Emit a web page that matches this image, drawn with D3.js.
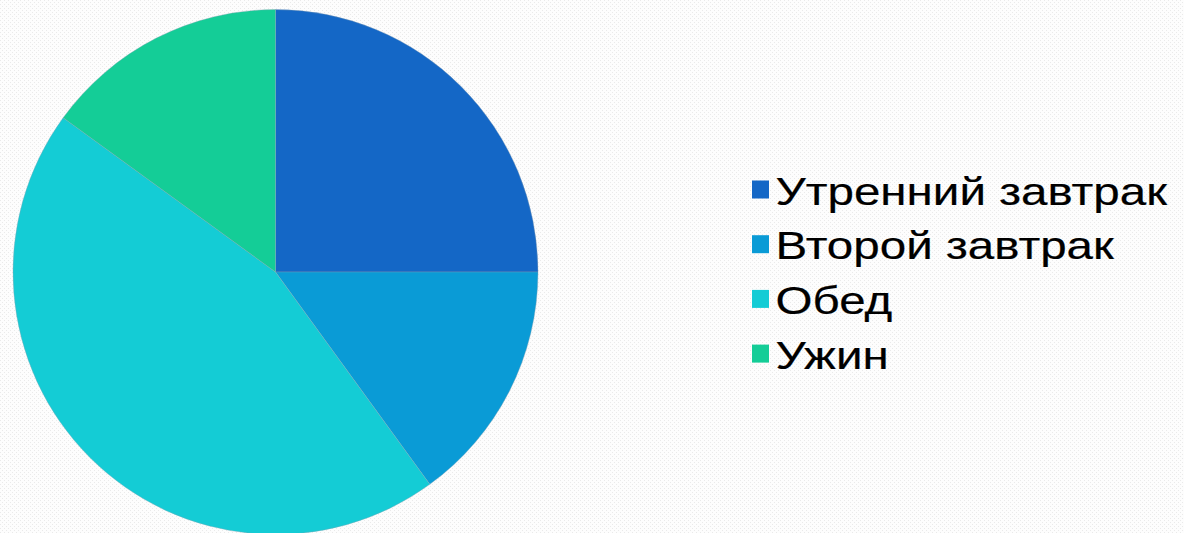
<!DOCTYPE html>
<html>
<head>
<meta charset="utf-8">
<script src="https://cdn.jsdelivr.net/npm/d3@7"></script>
<style>
  body { margin: 0; background: #fff; }
  svg { display: block; }
</style>
</head>
<body>
<div id="chart"></div>
<script>
var svgWidth = 1184;
var svgHeight = 533;

// data
var categories = ["Утренний завтрак", "Второй завтрак", "Обед", "Ужин"];
var values = [25, 15, 45, 15];
var colors = ["#1467c6", "#0a9bd6", "#14ccd5", "#14cd97"];

var svg = d3.select("#chart")
  .append("svg")
  .attr("width", svgWidth)
  .attr("height", svgHeight);

// faint dotted background
var defs = svg.append("defs");
var pat = defs.append("pattern")
  .attr("id", "dots")
  .attr("width", 4)
  .attr("height", 4)
  .attr("patternUnits", "userSpaceOnUse");
pat.append("rect").attr("width", 4).attr("height", 4).attr("fill", "#fdfdfd");
pat.append("rect").attr("x", 0).attr("y", 0).attr("width", 1).attr("height", 1).attr("fill", "#eaeaea");
pat.append("rect").attr("x", 2).attr("y", 2).attr("width", 1).attr("height", 1).attr("fill", "#eaeaea");

svg.append("rect")
  .attr("width", svgWidth)
  .attr("height", svgHeight)
  .attr("fill", "url(#dots)");

var cx = 275.5, cy = 272, radius = 262.5;

var pie = d3.pie().sort(null).value(d => d);
var arc = d3.arc().innerRadius(0).outerRadius(radius);

var color = d3.scaleOrdinal().domain(categories).range(colors);

var pieGroup = svg.append("g")
  .attr("transform", `translate(${cx}, ${cy})`);

pieGroup.selectAll("path")
  .data(pie(values))
  .enter()
  .append("path")
  .attr("d", arc)
  .attr("fill", (d, i) => color(categories[i]))
  .attr("stroke", "#8aa0b0")
  .attr("stroke-width", 0.6)
  .attr("stroke-opacity", 0.6);

// legend
var legend = svg.append("g")
  .attr("transform", "translate(752, 204.5)");

var rows = legend.selectAll("g")
  .data(categories)
  .enter()
  .append("g")
  .attr("transform", (d, i) => `translate(0, ${i * 54.7})`);

rows.append("rect")
  .attr("x", 0)
  .attr("y", -24)
  .attr("width", 17)
  .attr("height", 18)
  .attr("fill", d => color(d));

// the legend text in the picture is wider than plain Arial
rows.append("text")
  .attr("transform", "translate(23.5, 0) scale(1.235, 1)")
  .attr("font-family", "Liberation Sans, Arial, sans-serif")
  .attr("font-size", "38.5px")
  .attr("fill", "#000")
  .attr("stroke", "#000")
  .attr("stroke-width", 0.2)
  .text(d => d);
</script>
</body>
</html>
